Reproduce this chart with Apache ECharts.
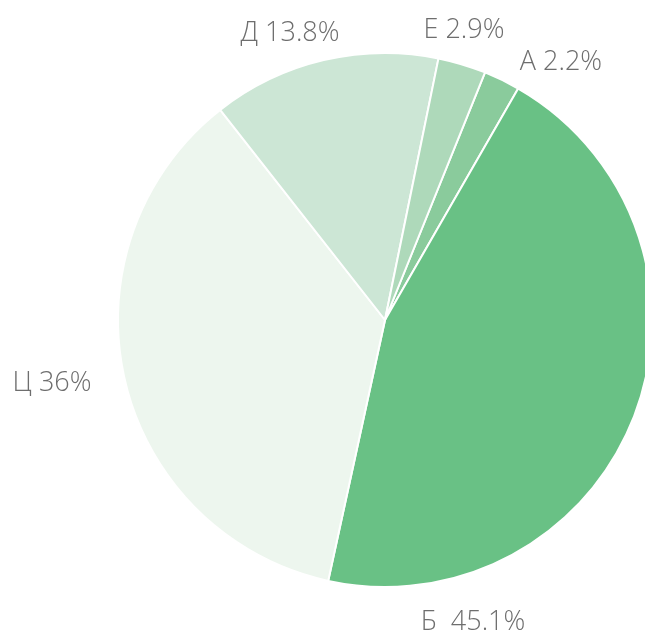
<!DOCTYPE html>
<html><head><meta charset="utf-8">
<script src="https://cdn.jsdelivr.net/npm/echarts@6/dist/echarts.min.js"></script>
<style>html,body{margin:0;padding:0;background:#fff}#c{width:645px;height:637px}</style>
</head><body><div id="c"></div>
<script>
const categories = ['А', 'Б', 'Ц', 'Д', 'Е'];
const values = [2.2, 45.1, 36, 13.8, 2.9];
const labelTexts = ['А 2.2%', 'Б  45.1%', 'Ц 36%', 'Д 13.8%', 'Е 2.9%'];
const colors = ['#8acb9c', '#69c185', '#edf6ee', '#cce6d5', '#aed9ba'];
// label anchor points (centers) for the outside labels
const labelPos = [[561, 62], [473, 622], [52, 383], [290, 33], [464, 30]];

const chart = echarts.init(document.getElementById('c'), null, {renderer: 'canvas'});
chart.setOption({
  animation: false,
  series: [{
    type: 'pie',
    center: [385, 320],
    radius: 267,
    startAngle: 68,
    clockwise: true,
    avoidLabelOverlap: false,
    itemStyle: {borderColor: '#ffffff', borderWidth: 2},
    label: {
      show: true,
      position: 'outside',
      fontFamily: 'Open Sans',
      fontWeight: 300,
      fontSize: 27,
      color: '#6e6e6e',
      formatter: p => labelTexts[p.dataIndex]
    },
    labelLine: {show: false},
    labelLayout: p => {
      const pos = labelPos[p.dataIndex];
      return {x: pos[0], y: pos[1], align: 'center', verticalAlign: 'middle'};
    },
    data: categories.map((c, i) => ({name: c, value: values[i], itemStyle: {color: colors[i]}}))
  }]
});
</script></body></html>
